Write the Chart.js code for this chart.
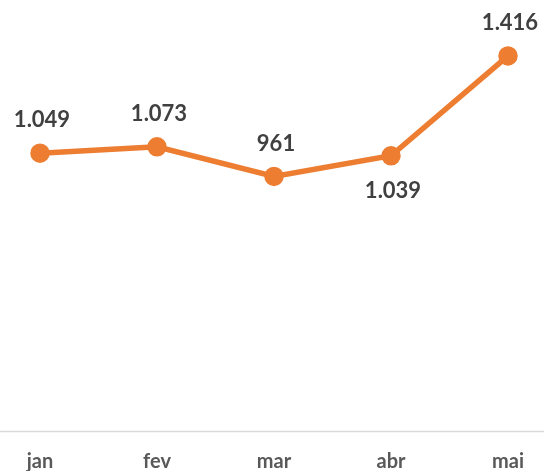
<!DOCTYPE html>
<html>
<head>
<meta charset="utf-8">
<script src="https://cdn.jsdelivr.net/npm/chart.js@4"></script>
<style>
  html, body { margin: 0; padding: 0; background: #fff; }
  #wrap { width: 544px; height: 471px; }
</style>
</head>
<body>
<div id="wrap"><canvas id="lineChart"></canvas></div>
<script>
const months = ["jan", "fev", "mar", "abr", "mai"];
const totals = [1049, 1073, 961, 1039, 1416];
// where each value label sits relative to its point
const labelSide = ["top", "top", "top", "bottom", "top"];

function fmt(v) {
  return String(v).replace(/\B(?=(\d{3})+(?!\d))/g, ".");
}

// draws the number above/below each point
const valueLabels = {
  id: "valueLabels",
  afterDatasetsDraw(chart) {
    const ctx = chart.ctx;
    const meta = chart.getDatasetMeta(0);
    ctx.save();
    ctx.font = "bold 22px Lato, 'Open Sans', sans-serif";
    ctx.fillStyle = "#404040";
    ctx.textAlign = "center";
    ctx.textBaseline = "middle";
    meta.data.forEach(function (pt, i) {
      const dy = labelSide[i] === "top" ? -33 : 35;
      ctx.fillText(fmt(totals[i]), pt.x + 2, pt.y + dy);
    });
    ctx.restore();
  }
};

// light baseline across the whole width at zero
const baseLine = {
  id: "baseLine",
  beforeDatasetsDraw(chart) {
    const ctx = chart.ctx;
    const y = Math.round(chart.scales.y.getPixelForValue(0)) + 0.5;
    ctx.save();
    ctx.strokeStyle = "#d9d9d9";
    ctx.lineWidth = 1.5;
    ctx.beginPath();
    ctx.moveTo(0, y);
    ctx.lineTo(chart.width, y);
    ctx.stroke();
    ctx.restore();
  }
};

const ctx = document.getElementById("lineChart").getContext("2d");

new Chart(ctx, {
  type: "line",
  data: {
    labels: months,
    datasets: [
      {
        data: totals,
        borderColor: "#ED7D31",
        backgroundColor: "#ED7D31",
        pointBackgroundColor: "#ED7D31",
        pointBorderColor: "#ED7D31",
        borderWidth: 5.5,
        pointRadius: 7,
        tension: 0,
      },
    ],
  },
  options: {
    responsive: true,
    maintainAspectRatio: false,
    animation: false,
    layout: {
      padding: { top: 0, left: 40, right: 36, bottom: -22 }
    },
    plugins: {
      legend: { display: false },
      tooltip: { enabled: false },
    },
    scales: {
      x: {
        offset: false,
        grid: { display: false, drawTicks: false },
        border: { display: false },
        ticks: {
          color: "#595959",
          font: { family: "Lato, 'Open Sans', sans-serif", size: 20, weight: "bold" },
          padding: 19,
          maxRotation: 0,
        },
      },
      y: {
        display: false,
        min: 0,
        max: 1580,
      },
    },
  },
  plugins: [baseLine, valueLabels],
});
</script>
</body>
</html>
